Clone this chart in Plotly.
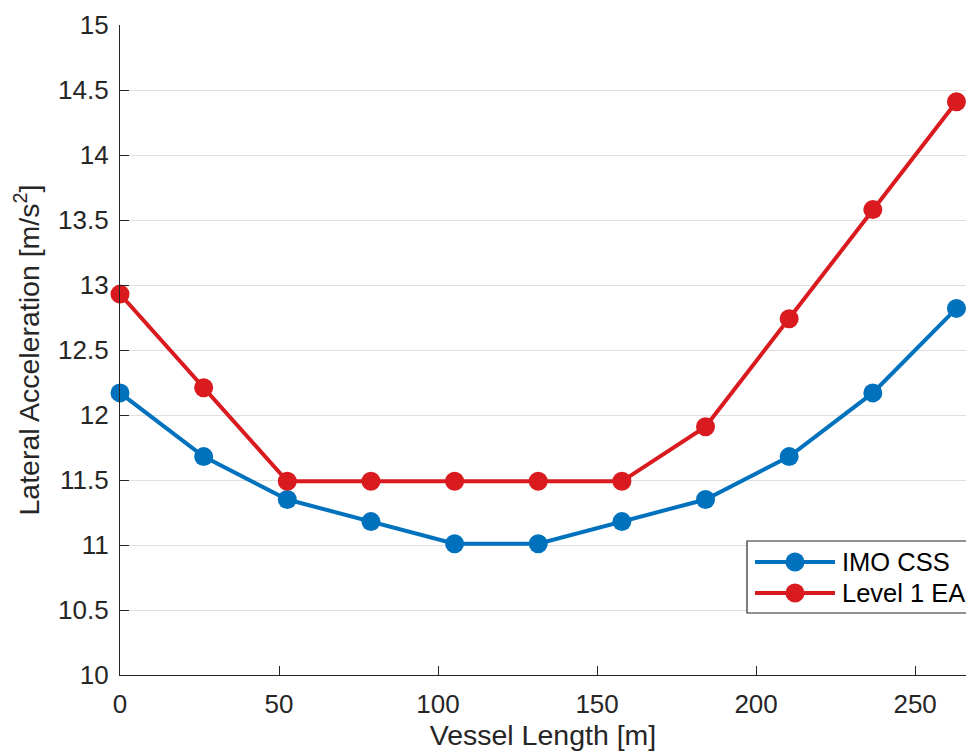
import plotly.graph_objects as go

# Vessel lengths [m] and lateral accelerations [m/s^2]
vessel_length = [0, 26.3, 52.6, 78.9, 105.2, 131.5, 157.8, 184.1, 210.4, 236.7, 263.0]
imo_css = [12.17, 11.68, 11.35, 11.18, 11.01, 11.01, 11.18, 11.35, 11.68, 12.17, 12.82]
level1_ea = [12.93, 12.21, 11.49, 11.49, 11.49, 11.49, 11.49, 11.91, 12.74, 13.58, 14.41]

series_names = ["IMO CSS", "Level 1 EA"]
series_colors = ["#0072BD", "#D91A1F"]

y_ticks = [10, 10.5, 11, 11.5, 12, 12.5, 13, 13.5, 14, 14.5, 15]
y_tick_text = ["10", "10.5", "11", "11.5", "12", "12.5", "13", "13.5", "14", "14.5", "15"]
x_ticks = [0, 50, 100, 150, 200, 250]

W, H = 966, 753
ML, MR, MT, MB = 120, 0, 25, 78
PW, PH = W - ML - MR, H - MT - MB

FONT = "Liberation Sans, Arial, Helvetica, sans-serif"
AX = "#262626"
TICK_SIZE = 26
TITLE_SIZE = 28.5

fig = go.Figure()
for name, ys, col in zip(series_names, [imo_css, level1_ea], series_colors):
    fig.add_trace(go.Scatter(
        x=vessel_length, y=ys, name=name, mode="lines+markers",
        line=dict(color=col, width=4),
        marker=dict(color=col, size=19),
        cliponaxis=False, showlegend=False,
    ))


def px_x(p):
    return (p - ML) / PW


def px_y(p):
    return (H - MB - p) / PH


# boxed legend drawn in paper space
shapes = [dict(type="rect", xref="paper", yref="paper",
               x0=px_x(747), x1=px_x(1000), y0=px_y(613), y1=px_y(541),
               line=dict(color=AX, width=1.2), fillcolor="white", layer="above")]
annotations = []
for row_y, name, col in zip([562, 593], series_names, series_colors):
    shapes.append(dict(type="line", xref="paper", yref="paper",
                       x0=px_x(755), x1=px_x(835), y0=px_y(row_y), y1=px_y(row_y),
                       line=dict(color=col, width=4), layer="above"))
    shapes.append(dict(type="circle", xref="paper", yref="paper",
                       xsizemode="pixel", ysizemode="pixel",
                       xanchor=px_x(795), yanchor=px_y(row_y),
                       x0=-9.5, x1=9.5, y0=-9.5, y1=9.5,
                       fillcolor=col, line=dict(width=0), layer="above"))
    annotations.append(dict(xref="paper", yref="paper", x=px_x(840), y=px_y(row_y),
                            xanchor="left", yanchor="middle", showarrow=False,
                            text=name, font=dict(family=FONT, size=25.5, color="#000000")))

fig.update_layout(
    width=W, height=H,
    margin=dict(l=ML, r=MR, t=MT, b=MB, autoexpand=False),
    paper_bgcolor="white", plot_bgcolor="white",
    font=dict(family=FONT, color=AX),
    shapes=shapes, annotations=annotations,
    showlegend=False,
)
fig.update_xaxes(
    range=[0, 266], tickvals=x_ticks, showgrid=False, zeroline=False,
    showline=True, linecolor=AX, linewidth=1.3,
    ticks="inside", ticklen=9, tickwidth=1.3, tickcolor=AX,
    tickfont=dict(size=TICK_SIZE, color=AX), ticklabelstandoff=6,
    title=dict(text="Vessel Length [m]", font=dict(size=TITLE_SIZE, color=AX), standoff=5),
    automargin=False,
)
fig.update_yaxes(
    range=[10, 15], tickvals=y_ticks, ticktext=y_tick_text,
    showgrid=True, gridcolor="#DFDFDF", gridwidth=1, zeroline=False,
    showline=True, linecolor=AX, linewidth=1.3,
    ticks="inside", ticklen=9, tickwidth=1.3, tickcolor=AX,
    tickfont=dict(size=TICK_SIZE, color=AX), ticklabelstandoff=5,
    title=dict(text="Lateral Acceleration [m/s<sup>2</sup>]", font=dict(size=TITLE_SIZE, color=AX), standoff=10),
    automargin=False,
)

fig.write_html("out.html")
